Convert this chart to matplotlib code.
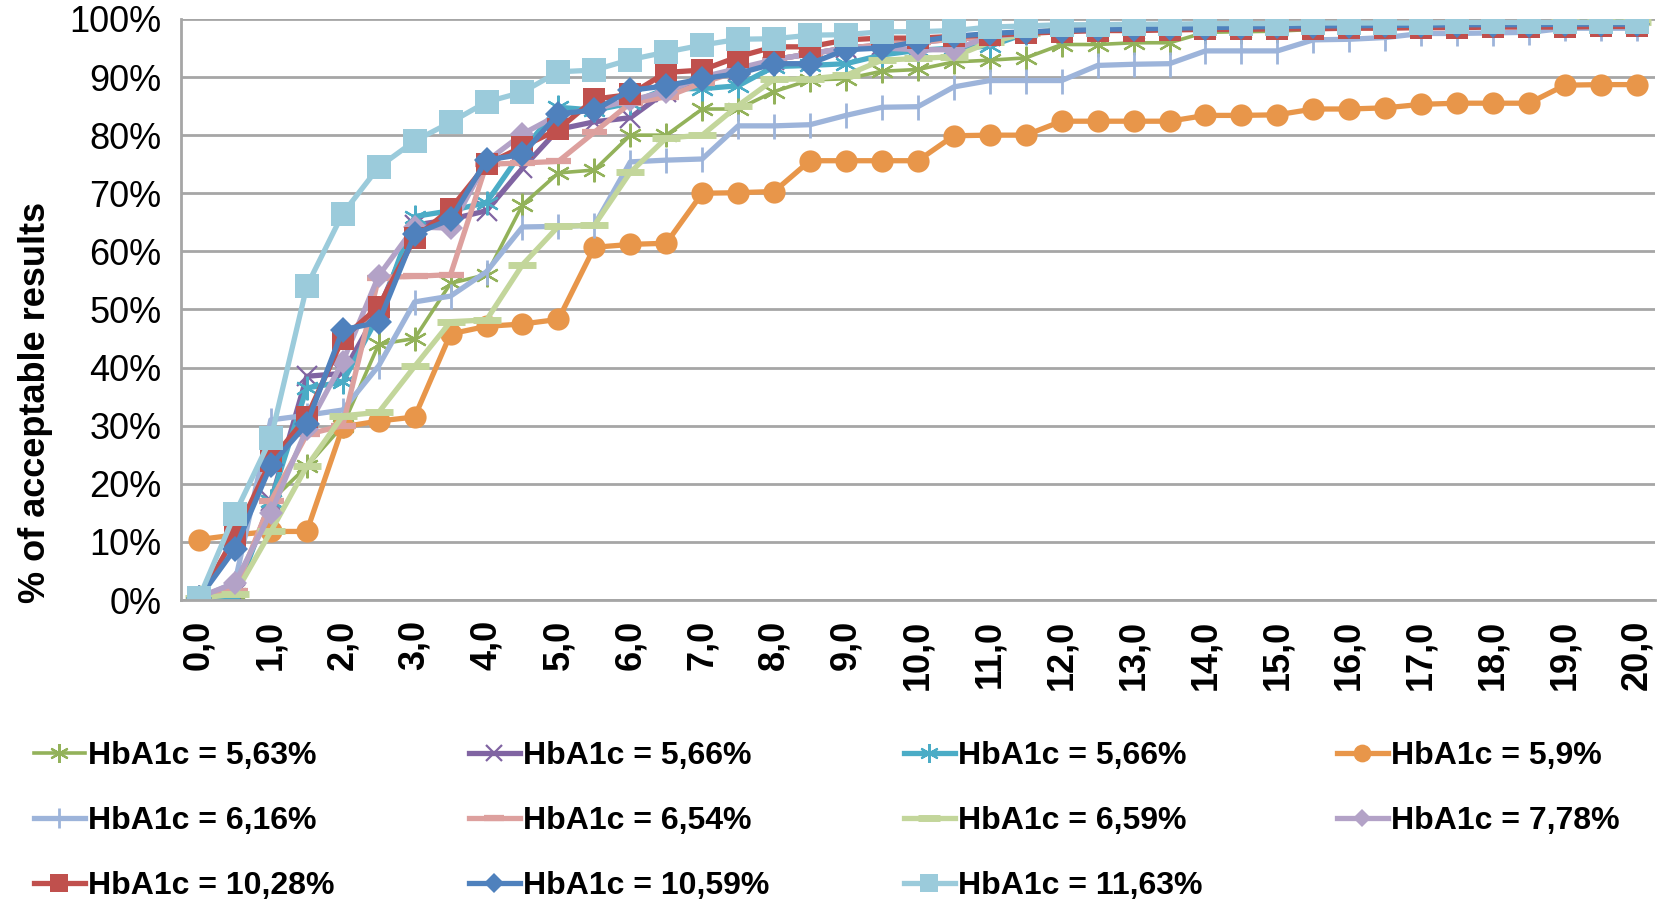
import matplotlib
matplotlib.use("Agg")
import matplotlib.pyplot as plt
from matplotlib.ticker import FuncFormatter, MultipleLocator

plt.rcParams["font.family"] = ["Liberation Sans", "DejaVu Sans"]

# limit of agreement (%) on the x axis, 0.0 .. 20.0 in steps of 0.5
x_values = [i * 0.5 for i in range(41)]

labels = [
    "HbA1c = 5,63%", "HbA1c = 5,66%", "HbA1c = 5,66%", "HbA1c = 5,9%",
    "HbA1c = 6,16%", "HbA1c = 6,54%", "HbA1c = 6,59%", "HbA1c = 7,78%",
    "HbA1c = 10,28%", "HbA1c = 10,59%", "HbA1c = 11,63%",
]

hba1c_563 = [0.5, 1, 17, 23, 30, 44, 45, 54.5, 56, 68, 73.5, 74, 80, 80, 84.5, 84.5, 87.5, 89.5, 89.7, 91,
             91.3, 92.6, 92.9, 93.3, 95.6, 95.6, 95.9, 95.9, 97.7, 97.8, 97.9, 98.2, 98.4, 98.5, 98.8, 99,
             99.1, 99.2, 99.4, 99.5, 99.5]
hba1c_566a = [0.3, 1, 17, 38.5, 39, 50, 64.5, 65.5, 67, 74.3, 81, 82.3, 83, 87.5, 89.5, 91, 93, 94, 95, 95.5,
              96, 96.5, 97, 97.5, 98, 98, 98.2, 98.3, 98.5, 98.5, 98.6, 98.8, 98.8, 98.9, 99, 99, 99.1, 99.2,
              99.2, 99.3, 99.3]
hba1c_566b = [0.2, 0.5, 17, 36.5, 37.5, 49, 66, 67, 68.4, 77.3, 84.8, 84.3, 85.5, 88, 88, 88.5, 91.8, 92,
              92.3, 93.8, 94.6, 95, 95.3, 97.5, 98, 98.2, 98.4, 98.5, 98.7, 98.8, 98.9, 99, 99, 99.1, 99.2,
              99.2, 99.3, 99.3, 99.4, 99.4, 99.5]
hba1c_59 = [10.4, 11.2, 11.8, 11.8, 29.8, 30.8, 31.5, 45.8, 47.1, 47.5, 48.3, 60.7, 61.2, 61.4, 70, 70.1,
            70.3, 75.6, 75.6, 75.6, 75.6, 79.9, 80, 80, 82.4, 82.4, 82.4, 82.4, 83.4, 83.4, 83.5, 84.5,
            84.5, 84.7, 85.3, 85.5, 85.5, 85.5, 88.6, 88.7, 88.7]
hba1c_616 = [0.3, 3, 31, 31.8, 32.7, 40.3, 51.3, 52.3, 56.5, 64.2, 64.3, 64.5, 75.4, 75.7, 75.9, 81.6, 81.6,
             81.8, 83.4, 84.8, 84.9, 88.3, 89.4, 89.4, 89.4, 92, 92.2, 92.3, 94.5, 94.5, 94.5, 96.4, 96.5,
             96.8, 97.5, 97.5, 97.6, 97.7, 98.4, 98.4, 98.4]
hba1c_654 = [0.5, 1.6, 17, 28.5, 30, 55.5, 55.7, 56, 75, 75.2, 75.5, 80.5, 85.5, 86.6, 89, 91, 93, 94, 95,
             95.5, 96, 96.5, 97, 97.5, 98, 98.2, 98.3, 98.4, 98.5, 98.6, 98.7, 98.8, 98.8, 98.9, 99, 99,
             99.1, 99.1, 99.2, 99.2, 99.3]
hba1c_659 = [0.3, 1, 11.8, 23, 31.7, 32.3, 40.2, 47.9, 48.2, 57.7, 64.3, 64.5, 73.6, 79.5, 80, 85.1, 89.6,
             89.7, 90.3, 92.9, 93.2, 93.5, 96, 97.5, 98.2, 98.4, 98.5, 98.6, 98.7, 98.8, 98.9, 99, 99, 99.1,
             99.2, 99.2, 99.3, 99.3, 99.4, 99.4, 99.5]
hba1c_778 = [0.5, 2.9, 15, 29.5, 41, 55.8, 64.2, 64, 75.5, 80.2, 83.5, 84.5, 86, 87.5, 90, 91.5, 93, 94, 95,
             95, 94.7, 94.7, 97, 97.5, 98, 98.2, 98.4, 98.5, 98.6, 98.7, 98.8, 98.9, 99, 99, 99.1, 99.1,
             99.2, 99.2, 99.3, 99.3, 99.4]
hba1c_1028 = [0, 11, 24, 31.5, 45, 50.5, 62.3, 67.3, 75, 78, 81, 86.2, 87, 90.8, 91.2, 93.5, 95.2, 95.2, 96.4,
              96.7, 96.7, 97, 97.2, 97.5, 97.8, 98, 98, 98.1, 98.2, 98.2, 98.3, 98.3, 98.4, 98.4, 98.5,
              98.5, 98.6, 98.6, 98.6, 98.7, 98.7]
hba1c_1059 = [0.3, 8.8, 23.2, 30.3, 46.5, 47.8, 63, 65.5, 75.7, 76.7, 83.7, 84.3, 87.7, 88.5, 89.7, 90.6,
              92.3, 92.3, 94.7, 95, 96.1, 97, 97.5, 97.8, 98, 98.2, 98.3, 98.4, 98.5, 98.6, 98.7, 98.8,
              98.8, 98.9, 98.9, 99, 99, 99, 99.1, 99.1, 99.1]
hba1c_1163 = [0.3, 14.8, 27.8, 54, 66.5, 74.5, 79, 82.2, 85.7, 87.4, 90.9, 91.2, 93, 94.3, 95.5, 96.5, 96.6,
              97.2, 97.3, 97.8, 97.8, 98, 98.6, 98.8, 99, 99, 99.1, 99.1, 99.2, 99.2, 99.2, 99.3, 99.3, 99.3,
              99.3, 99.4, 99.4, 99.4, 99.4, 99.4, 99.4]

series = [hba1c_563, hba1c_566a, hba1c_566b, hba1c_59, hba1c_616, hba1c_654,
          hba1c_659, hba1c_778, hba1c_1028, hba1c_1059, hba1c_1163]

asterisk = (6, 2, 0)
styles = [
    dict(color="#93B25A", lw=2.6, marker=asterisk, ms=17, mew=1.6),
    dict(color="#8064A2", lw=3.8, marker="x", ms=14, mew=1.6),
    dict(color="#4BACC6", lw=3.8, marker=asterisk, ms=17, mew=1.6),
    dict(color="#E8964A", lw=3.8, marker="o", ms=16, mew=0),
    dict(color="#9DB4DA", lw=3.8, marker="|", ms=18, mew=2.0),
    dict(color="#DDA09E", lw=3.8, marker="_", ms=18, mew=4.5),
    dict(color="#C3D69B", lw=3.8, marker="_", ms=20, mew=5.0),
    dict(color="#B3A2C7", lw=3.8, marker="D", ms=12, mew=0),
    dict(color="#C0504D", lw=3.8, marker="s", ms=16, mew=0),
    dict(color="#4F81BD", lw=3.8, marker="D", ms=13, mew=0),
    dict(color="#9BCBDB", lw=3.8, marker="s", ms=17, mew=0),
]

fig = plt.figure(figsize=(16.71, 9.02), dpi=100)
ax = fig.add_axes([0.1083, 0.3348, 0.882, 0.6442])

handles = []
for values, label, st in zip(series, labels, styles):
    (h,) = ax.plot(x_values, values, label=label, solid_joinstyle="round", **st)
    handles.append(h)

ax.set_xlim(-0.25, 20.25)
ax.set_ylim(0, 100)
ax.yaxis.set_major_locator(MultipleLocator(10))
ax.yaxis.set_major_formatter(FuncFormatter(lambda v, _: f"{v:.0f}%"))
ax.xaxis.set_major_locator(MultipleLocator(1))
ax.xaxis.set_major_formatter(FuncFormatter(lambda v, _: f"{v:.1f}".replace(".", ",")))
ax.grid(axis="y", color="#A6A6A6", lw=2)
ax.set_axisbelow(True)

for side in ("top", "right"):
    ax.spines[side].set_visible(False)
for side in ("left", "bottom"):
    ax.spines[side].set_color("#A6A6A6")
    ax.spines[side].set_linewidth(2)

ax.tick_params(axis="y", length=0, labelsize=26, pad=14)
ax.tick_params(axis="x", length=0, labelsize=26, pad=14, rotation=90)
for t in ax.get_xticklabels():
    t.set_fontweight("bold")
ax.set_ylabel("% of acceptable results", fontsize=26, fontweight="bold")
ax.yaxis.set_label_coords(-0.087, 0.34)

# row-wise legend order for a 4-column layout
order = [0, 4, 8, 1, 5, 9, 2, 6, 10, 3, 7]
fig.legend(
    [handles[i] for i in order],
    [labels[i] for i in order],
    loc="lower left",
    bbox_to_anchor=(0.003, -0.031),
    ncol=4,
    frameon=False,
    prop={"size": 23, "weight": "bold"},
    handlelength=1.6,
    handletextpad=0.1,
    columnspacing=4.2,
    labelspacing=1.1,
    markerscale=0.8,
)

fig.savefig("out.png", dpi=100)
